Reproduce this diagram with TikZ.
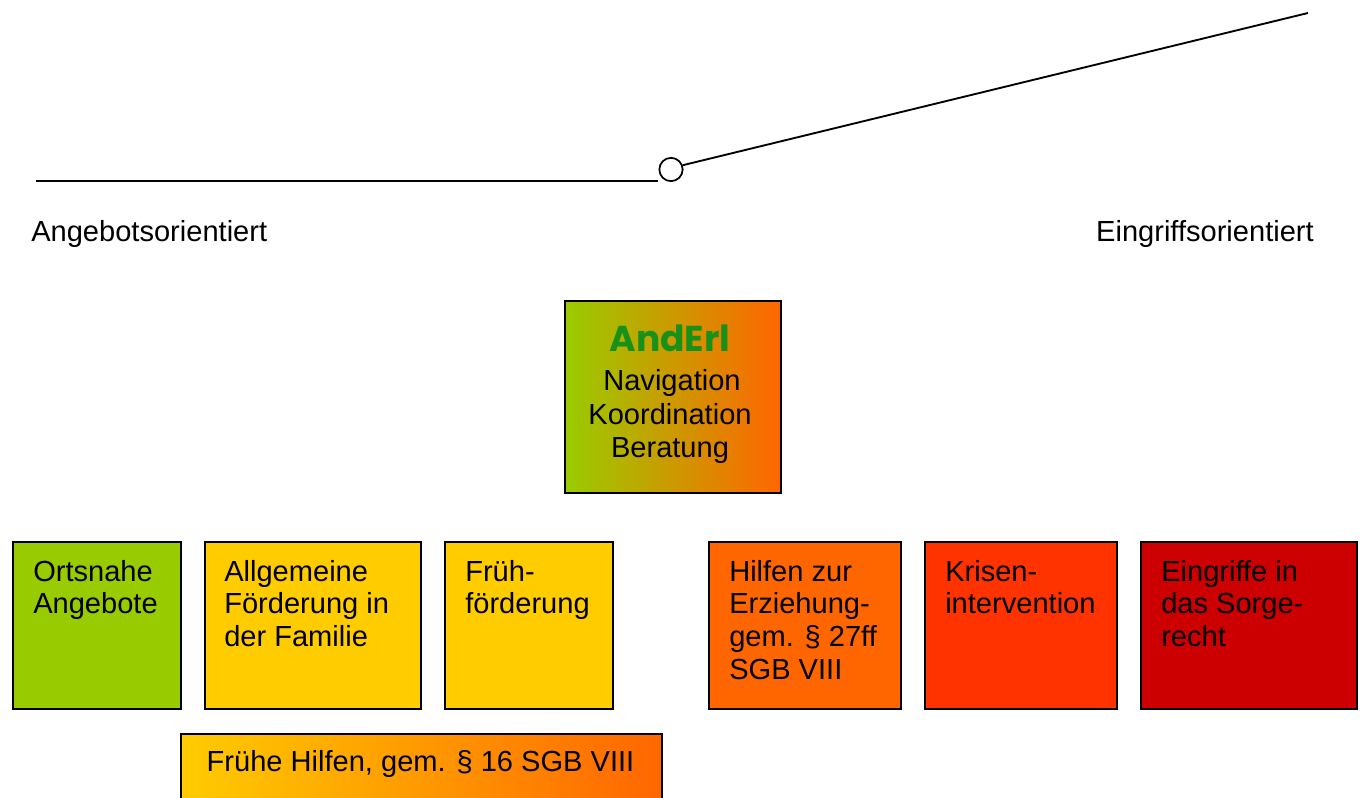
\documentclass[tikz,border=0pt]{standalone}
\usepackage{fontspec}
\setmainfont{Liberation Sans}
\newfontfamily\titlefont{Poppins}[UprightFont=* Bold]
\definecolor{cgreen}{HTML}{99CC00}
\definecolor{cyellow}{HTML}{FFCC00}
\definecolor{corange}{HTML}{FF6600}
\definecolor{cred}{HTML}{FF3300}
\definecolor{cdark}{HTML}{CC0000}
\definecolor{ctitle}{RGB}{25,145,25}
\tikzset{
  box/.style={draw=black, line width=1.4pt, rectangle, anchor=north west, inner sep=0pt},
  label/.style={inner sep=0pt, font=\fontsize{21.8}{24.5}\selectfont},
  boxtext/.style={label, anchor=north west, align=left},
  rule/.style={line width=1.4pt}
}
\begin{document}
\begin{tikzpicture}[x=0.75pt, y=-0.75pt]
\useasboundingbox (0,0) rectangle (1363,798);

% switch: horizontal bar, pivot and raised lever
\node[draw, circle, line width=1.3pt, minimum size=17.5pt, inner sep=0pt] (pivot) at (671,169.5) {};
\coordinate (barstart) at (36,181);
\coordinate (lever) at (1308,13);
\draw[rule] (barstart) -- (barstart -| pivot.west);
\draw[rule] (pivot.20) -- (lever);

\node[label, anchor=base west] (angebot) at (31,242) {Angebotsorientiert};
\node[label, anchor=base east] (eingriff) at (1314,242) {Eingriffsorientiert};

% central coordination box
\node[box, shading=axis, left color=cgreen, right color=corange, shading angle=90,
      minimum width={216*0.75pt}, minimum height={192*0.75pt}] (anderl) at (564,300) {};
\node[inner sep=0pt, anchor=base, text=ctitle, font=\titlefont\fontsize{27}{30}\selectfont] (title) at (670,352) {AndErl};
\node[label, anchor=base] (nav) at (672,391) {Navigation};
\node[label, anchor=base] (koord) at (670,424) {Koordination};
\node[label, anchor=base] (berat) at (670,457) {Beratung};

% row of services
\node[box, fill=cgreen, minimum width={168*0.75pt}, minimum height={167*0.75pt}] (ort) at (12,541) {};
\node[box, fill=cyellow, minimum width={216*0.75pt}, minimum height={167*0.75pt}] (allg) at (204,541) {};
\node[box, fill=cyellow, minimum width={168*0.75pt}, minimum height={167*0.75pt}] (frueh) at (444,541) {};
\node[box, fill=corange, minimum width={192*0.75pt}, minimum height={167*0.75pt}] (hze) at (708,541) {};
\node[box, fill=cred, minimum width={192*0.75pt}, minimum height={167*0.75pt}] (krise) at (924,541) {};
\node[box, fill=cdark, minimum width={216*0.75pt}, minimum height={167*0.75pt}] (sorge) at (1140,541) {};

\node[boxtext] (ortT) at (33,560) {Ortsnahe\\Angebote};
\node[boxtext] (allgT) at (224,560) {Allgemeine\\Förderung in\\der Familie};
\node[boxtext] (fruehT) at (465,560) {Früh-\\förderung};
\node[boxtext] (hzeT) at (729,560) {Hilfen zur\\Erziehung-\\gem. § 27ff\\SGB VIII};
\node[boxtext] (kriseT) at (945,560) {Krisen-\\intervention};
\node[boxtext] (sorgeT) at (1161,560) {Eingriffe in\\das Sorge-\\recht};

% early help band, running off the lower edge
\begin{scope}
\clip (0,0) rectangle (1363,798);
\node[box, shading=axis, left color=cyellow, right color=corange, shading angle=90,
      minimum width={481*0.75pt}, minimum height={90*0.75pt}] (fh) at (180,733) {};
\end{scope}
\node[label, anchor=base] (fhT) at (420.5,771) {Frühe Hilfen, gem. § 16 SGB VIII};
\end{tikzpicture}
\end{document}
